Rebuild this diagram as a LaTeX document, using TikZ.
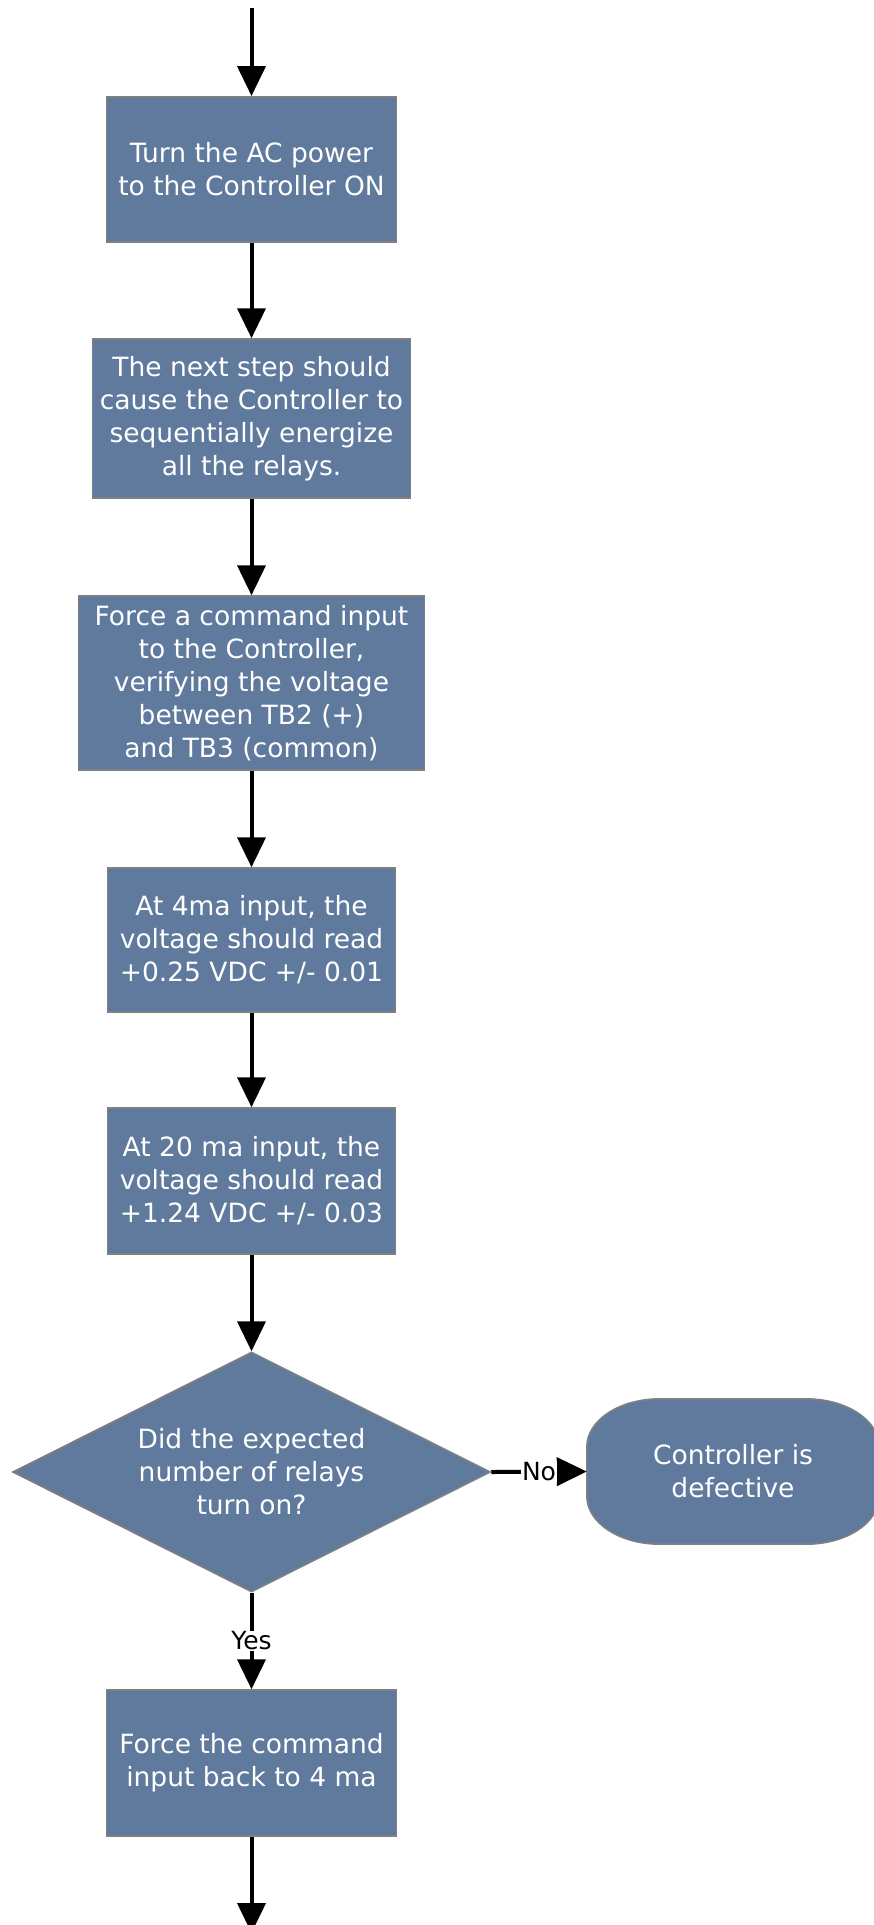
\documentclass[tikz,border=0pt]{standalone}
\usepackage{fontspec}
\setmainfont{DejaVu Sans}
\usetikzlibrary{arrows.meta,shapes.geometric,backgrounds}
\definecolor{boxfill}{RGB}{96,122,158}
\definecolor{boxline}{RGB}{128,128,128}
\begin{document}
\begin{tikzpicture}[x=1pt,y=1pt,
  every node/.style={font=\fontsize{26.5}{33}\selectfont},
  procbox/.style={rectangle, fill=boxfill, draw=boxline, line width=1.5pt, text=white, align=center, inner sep=0pt},
  decbox/.style={diamond, aspect=2, fill=boxfill, draw=boxline, line width=1.5pt, text=white, align=center, inner sep=0pt, minimum width=478pt, minimum height=240pt},
  termbox/.style={rectangle, text=white, align=center, inner sep=0pt, minimum width=292pt, minimum height=145pt},
  termshape/.style={fill=boxfill, draw=boxline, line width=1.5pt},
  flow/.style={draw=black, line width=4pt, -{Triangle[length=30pt,width=28pt]}},
  lbl/.style={fill=white, text=black, inner sep=1pt, font=\fontsize{25}{30}\selectfont}
]
\useasboundingbox (0,0) rectangle (873,-1925);
\coordinate (startpt) at (251.5,-8);
\coordinate (endpt) at (251.5,-1933);

\node[procbox, minimum width=290pt, minimum height=145pt] (b1) at (251.5,-169.3) {Turn the AC power\\to the Controller ON};
\node[procbox, minimum width=318pt, minimum height=159pt] (b2) at (251.5,-418.5) {The next step should\\cause the Controller to\\sequentially energize\\all the relays.};
\node[procbox, minimum width=346pt, minimum height=174pt] (b3) at (251.5,-683) {Force a command input\\to the Controller,\\verifying the voltage\\between TB2 (+)\\and TB3 (common)};
\node[procbox, minimum width=288pt, minimum height=144pt] (b4) at (251.5,-940) {At 4ma input, the\\voltage should read\\+0.25 VDC +/- 0.01};
\node[procbox, minimum width=288pt, minimum height=146pt] (b5) at (251.5,-1181) {At 20 ma input, the\\voltage should read\\+1.24 VDC +/- 0.03};
\node[decbox] (d) at (251.5,-1472) {Did the expected\\number of relays\\turn on?};
\node[termbox] (t) at (733,-1471.5) {Controller is\\defective};
\node[procbox, minimum width=290pt, minimum height=146pt] (b6) at (251.5,-1763) {Force the command\\input back to 4 ma};

\begin{pgfonlayer}{background}
\path[termshape] ([xshift=73pt]t.north west) -- ([xshift=-73pt]t.north east)
  arc[start angle=90, end angle=0, x radius=73pt, y radius=48pt]
  -- ([yshift=48pt]t.south east)
  arc[start angle=0, end angle=-90, x radius=73pt, y radius=48pt]
  -- ([xshift=73pt]t.south west)
  arc[start angle=270, end angle=180, x radius=73pt, y radius=48pt]
  -- ([yshift=-48pt]t.north west)
  arc[start angle=180, end angle=90, x radius=73pt, y radius=48pt]
  -- cycle;
\end{pgfonlayer}

\draw[flow] (startpt) -- (b1);
\draw[flow] (b1) -- (b2);
\draw[flow] (b2) -- (b3);
\draw[flow] (b3) -- (b4);
\draw[flow] (b4) -- (b5);
\draw[flow] (b5) -- (d);
\draw[flow] (d.east) -- node[lbl] {No} (t.west);
\draw[flow] (d.south) -- node[lbl] {Yes} (b6.north);
\draw[flow] (b6) -- (endpt);
\end{tikzpicture}
\end{document}
